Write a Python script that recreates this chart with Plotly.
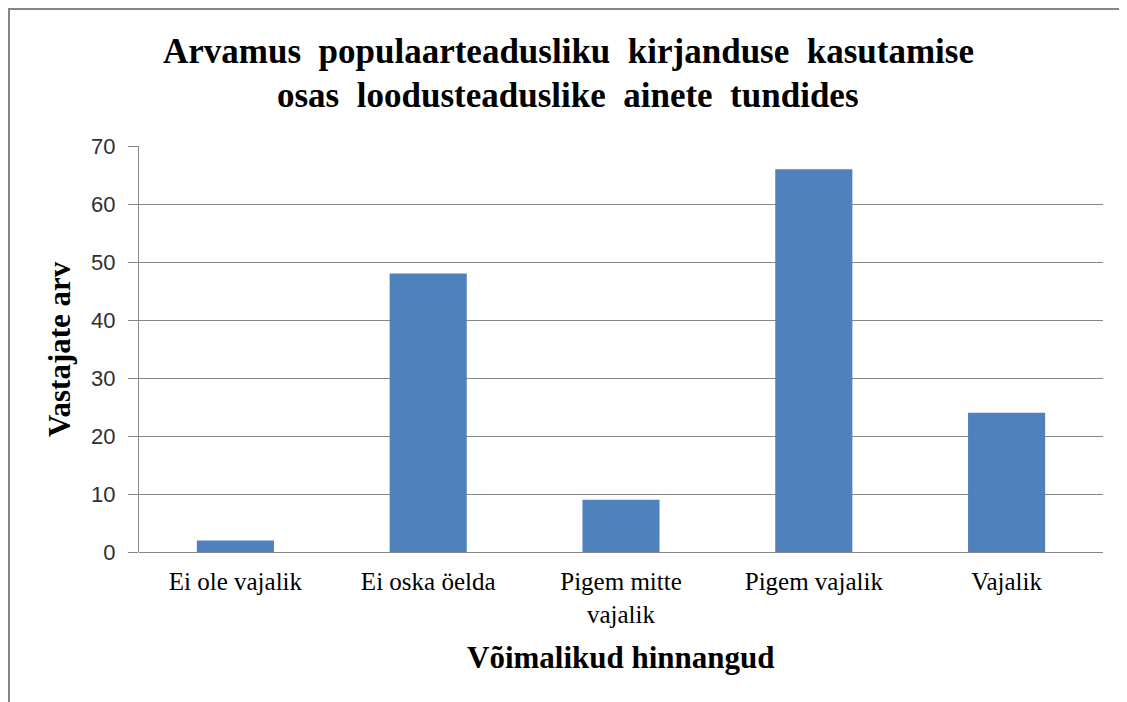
import plotly.graph_objects as go

categories = ["Ei ole vajalik", "Ei oska öelda", "Pigem mitte<br>vajalik", "Pigem vajalik", "Vajalik"]
values = [2, 48, 9, 66, 24]
y_ticks = [0, 10, 20, 30, 40, 50, 60, 70]

title_lines = [["Arvamus", "populaarteadusliku", "kirjanduse", "kasutamise"],
               ["osas", "loodusteaduslike", "ainete", "tundides"]]
x_title = "Võimalikud hinnangud"
y_title = "Vastajate arv"

# page body has an 8px margin, so the figure is sized to fit the window
W, H = 1119, 694
L, R, T, B = 131, 24, 138, 150
PW, PH = W - L - R, H - T - B

serif = "Liberation Serif, Times New Roman, serif"
sans = "Liberation Sans, Arial, sans-serif"
grid = "#878787"

fig = go.Figure()
fig.add_trace(go.Bar(x=categories, y=values, width=0.4,
                     marker=dict(color="#4F81BD", line=dict(width=0))))

fig.update_layout(
    width=W, height=H,
    margin=dict(l=L, r=R, t=T, b=B),
    paper_bgcolor="white", plot_bgcolor="white",
    showlegend=False,
    xaxis=dict(
        type="category",
        tickfont=dict(family=serif, size=25, color="black"),
        showgrid=False, showline=False, ticks="",
        ticklabelstandoff=12,
    ),
    yaxis=dict(
        range=[0, 70], tickvals=y_ticks,
        tickfont=dict(family=sans, size=22, color="#303030"),
        showgrid=True, gridcolor=grid, gridwidth=1,
        showline=True, linecolor=grid, linewidth=1,
        ticks="outside", ticklen=10, tickcolor=grid,
        zeroline=True, zerolinecolor=grid, zerolinewidth=1,
        ticklabelstandoff=8,
    ),
)

def px_x(px):
    return (px - L) / PW

def px_y(py):
    return (T + PH - py) / PH

gap = " &nbsp;"
for words, cy in zip(title_lines, [44, 87]):
    fig.add_annotation(text="<b>" + gap.join(words) + "</b>", xref="paper", yref="paper",
                       x=px_x(560), y=px_y(cy), showarrow=False,
                       font=dict(family=serif, size=35, color="black"),
                       xanchor="center", yanchor="middle")

fig.add_annotation(text="<b>" + x_title + "</b>", xref="paper", yref="paper",
                   x=0.5, y=px_y(649), showarrow=False,
                   font=dict(family=serif, size=31, color="black"),
                   xanchor="center", yanchor="middle")
fig.add_annotation(text="<b>" + y_title + "</b>", xref="paper", yref="paper",
                   x=px_x(51), y=0.5, showarrow=False, textangle=-90,
                   font=dict(family=serif, size=31, color="black"),
                   xanchor="center", yanchor="middle")

# chart frame (cropped at right and bottom in the reference)
fig.add_shape(type="rect", xref="paper", yref="paper",
              x0=px_x(1), x1=px_x(W + 20), y0=px_y(H + 20), y1=px_y(1),
              line=dict(color="#868686", width=2), fillcolor="rgba(0,0,0,0)", layer="below")

fig.write_html("out.html")
